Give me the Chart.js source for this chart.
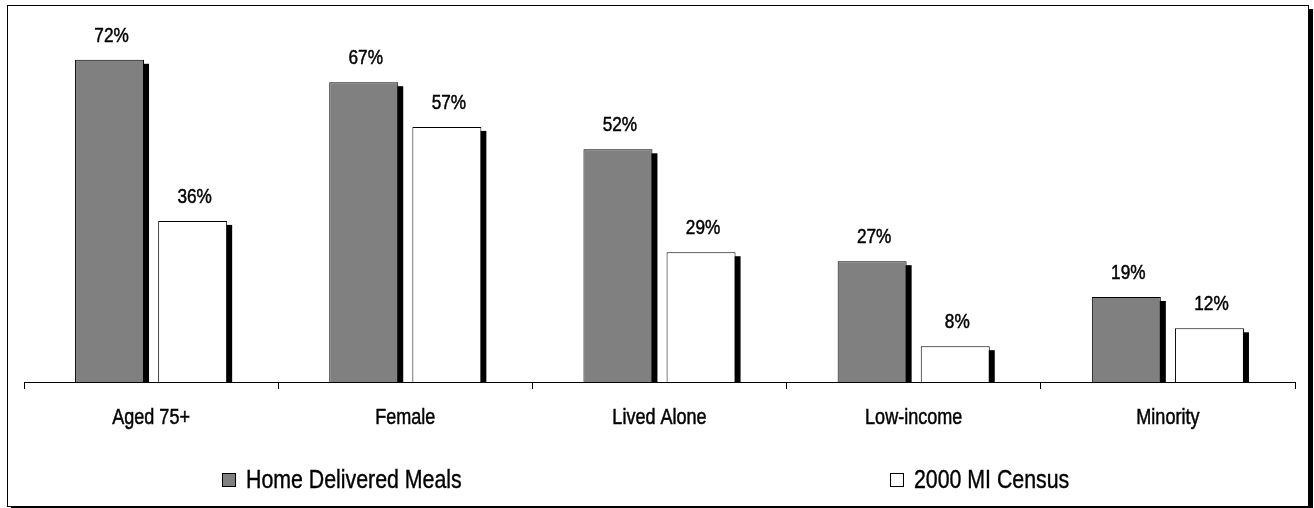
<!DOCTYPE html>
<html>
<head>
<meta charset="utf-8">
<style>
  html, body { margin: 0; padding: 0; background: #fff; }
  body { width: 1314px; height: 508px; position: relative; overflow: hidden; }
  #frame {
    position: absolute; left: 7px; top: 5px;
    width: 1300px; height: 500px;
    border: 1px solid #000;
    box-shadow: 4px 4px 0 #000;
    background: #fff;
  }
  #chart { display: block; }
</style>
<script src="https://cdn.jsdelivr.net/npm/chart.js@4.4.1/dist/chart.umd.min.js"></script>
</head>
<body>
<div id="frame"><canvas id="chart" width="1300" height="500"></canvas></div>
<script>
const categories = ['Aged 75+', 'Female', 'Lived Alone', 'Low-income', 'Minority'];
const mealsValues = [72, 67, 52, 27, 19];
const censusValues = [36, 57, 29, 8, 12];
const seriesNames = ['Home Delivered Meals', '2000 MI Census'];

const FONT = '"Liberation Sans", Arial, Helvetica, sans-serif';
const NARROW = 0.82; // horizontal squeeze giving a narrow face

// Text drawn with a horizontal squeeze so Liberation Sans reads as a narrow face
function narrowText(ctx, text, x, y, size, align, weight) {
  ctx.save();
  ctx.translate(x, y);
  ctx.scale(NARROW, 1);
  ctx.font = size + 'px ' + FONT;
  ctx.textAlign = align;
  ctx.textBaseline = 'alphabetic';
  ctx.fillStyle = '#000';
  ctx.fillText(text, 0, 0);
  if (weight) {
    ctx.strokeStyle = '#000';
    ctx.lineWidth = weight;
    ctx.strokeText(text, 0, 0);
  }
  ctx.restore();
}

// Black drop shadow behind every bar, stopping at the axis line
const barShadow = {
  id: 'barShadow',
  beforeDatasetsDraw(chart) {
    const ctx = chart.ctx;
    ctx.save();
    ctx.fillStyle = '#000';
    chart.data.datasets.forEach((ds, i) => {
      chart.getDatasetMeta(i).data.forEach(bar => {
        const left = bar.x - bar.width / 2;
        const top = bar.y;
        const h = bar.base - top - 4;
        if (h > 0) ctx.fillRect(left + 4, top + 4, bar.width + 1, h);
      });
    });
    ctx.restore();
  }
};

// Percent labels above the bars and category names under the axis
const barTexts = {
  id: 'barTexts',
  afterDatasetsDraw(chart) {
    const ctx = chart.ctx;
    chart.data.datasets.forEach((ds, i) => {
      chart.getDatasetMeta(i).data.forEach((bar, j) => {
        narrowText(ctx, ds.data[j] + '%', bar.x + 2, bar.y - 18, 21, 'center', 0.5);
      });
    });
    const xs = chart.scales.x;
    chart.data.labels.forEach((lab, i) => {
      narrowText(ctx, lab, xs.getPixelForTick(i), xs.top + 42, 22, 'center', 0.5);
    });
  }
};

// Two-item legend spread across the bottom of the frame
const spreadLegend = {
  id: 'spreadLegend',
  afterDraw(chart) {
    const ctx = chart.ctx;
    const area = chart.chartArea;
    const starts = [area.left + 198, area.left + 866];
    const boxTop = 467;
    const box = 14;
    chart.data.datasets.forEach((ds, i) => {
      const x = starts[i];
      ctx.save();
      ctx.fillStyle = ds.backgroundColor;
      ctx.fillRect(x, boxTop, box, box);
      ctx.lineWidth = 1;
      ctx.strokeStyle = '#000';
      ctx.strokeRect(x + 0.5, boxTop + 0.5, box - 1, box - 1);
      ctx.restore();
      narrowText(ctx, ds.label, x + box + 10, 482, 26, 'left', 0.4);
    });
  }
};

new Chart(document.getElementById('chart'), {
  type: 'bar',
  data: {
    labels: categories,
    datasets: [
      {
        label: seriesNames[0],
        data: mealsValues,
        backgroundColor: '#808080',
        borderColor: '#000',
        borderWidth: 1,
        borderSkipped: 'bottom'
      },
      {
        label: seriesNames[1],
        data: censusValues,
        backgroundColor: '#ffffff',
        borderColor: '#000',
        borderWidth: 1,
        borderSkipped: 'bottom'
      }
    ]
  },
  options: {
    responsive: false,
    animation: false,
    events: [],
    categoryPercentage: 0.654,
    barPercentage: 0.83,
    layout: { padding: { left: 16, right: 13, top: 18, bottom: 74 } },
    plugins: {
      legend: { display: false },
      tooltip: { enabled: false }
    },
    scales: {
      x: {
        grid: {
          display: true,
          drawOnChartArea: false,
          drawTicks: true,
          tickLength: 7,
          color: '#000',
          offset: true
        },
        border: { display: true, color: '#000', width: 1 },
        ticks: { display: false },
        afterFit(scale) { scale.height = 50; }
      },
      y: {
        display: false,
        min: 0,
        max: 80
      }
    }
  },
  plugins: [barShadow, barTexts, spreadLegend]
});
</script>
</body>
</html>
